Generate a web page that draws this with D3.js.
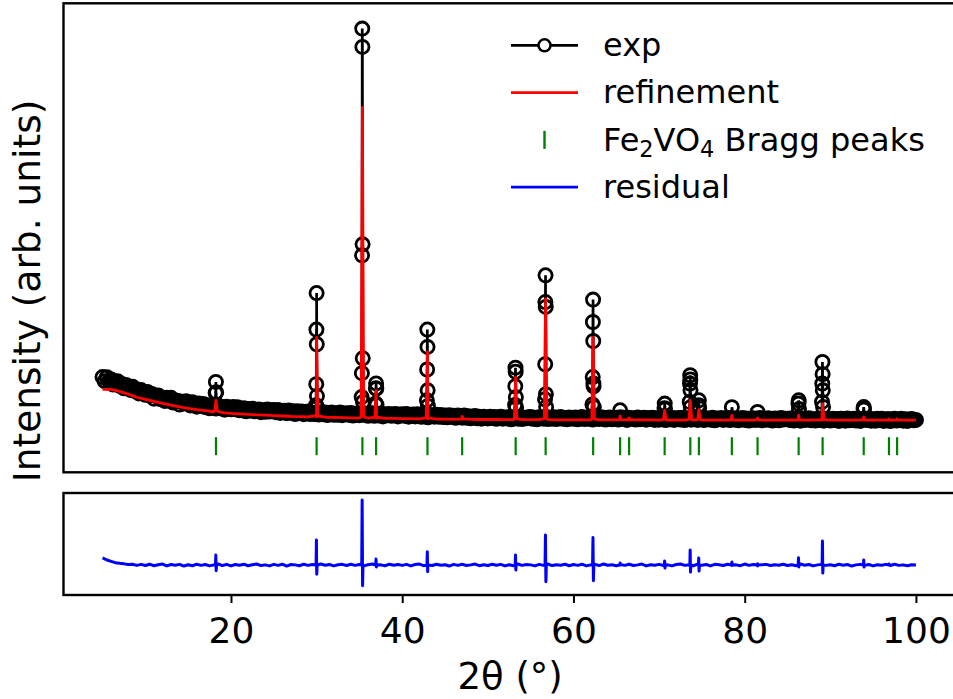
<!DOCTYPE html>
<html>
<head>
<meta charset="utf-8">
<script src="https://cdn.jsdelivr.net/npm/d3@7"></script>
<style>
  body { margin: 0; background: #fff; }
  svg { display: block; }
  text { font-family: "DejaVu Sans", sans-serif; fill: #000; }
</style>
</head>
<body>
<svg id="chart" width="953" height="699"></svg>
<script>
// ---------- measured pattern (step scan, 2θ in degrees) ----------
const scanStart = 5, scanStep = 0.25;
const expBackground = [
  297,277,296,276,285,260,272,277,254,263,242,258,249,234,250,230,236,217,233,218,
  210,224,208,214,191,205,207,189,196,180,195,181,195,172,179,181,162,176,168,178,
  173,158,174,160,152,167,157,165,150,159,144,158,153,143,158,144,150,137,152,144,
  139,150,139,149,134,141,144,129,140,133,142,129,134,138,125,134,127,138,128,134,
  135,125,136,121,129,132,120,133,122,129,116,130,122,128,115,125,128,116,122,116,
  123,113,125,115,123,111,119,123,112,120,112,123,110,117,120,112,121,108,117,112,
  110,120,112,118,107,116,120,107,114,109,118,104,115,110,116,107,113,116,104,112,
  115,107,116,103,111,113,104,115,106,102,113,110,100,111,108,103,112,103,111,101,
  109,100,110,102,107,97,108,103,98,108,98,105,95,102,106,95,102,93,103,96,
  94,102,96,101,92,99,103,93,99,94,101,90,97,100,93,102,91,98,95,100,
  101,92,98,90,100,97,93,102,91,98,93,100,91,97,101,92,96,90,99,94,
  93,99,90,98,101,91,96,92,100,89,96,98,91,100,93,89,97,99,90,96,
  97,89,100,92,98,87,98,92,95,89,99,90,94,98,88,96,91,97,87,95,
  88,95,97,86,94,90,98,87,93,96,89,97,86,94,95,88,98,91,87,96,
  93,86,95,92,88,97,85,94,90,96,87,93,97,86,94,89,95,85,92,96,
  87,94,84,92,95,86,91,96,85,93,88,95,87,84,94,92,85,96,89,93,
  93,87,95,84,90,92,83,94,86,91,95,85,90,84,93,87,94,83,92,88,
  84,93,87,91,82,92,90,83,94,85,89,93,84,91,82,90,92,86,94,83,
  90,83,92,85,93,82,88,91,81,89,92,84,86,93,83,90,82,89,91,85,
  87
];
// points recorded across the reflections [2θ, intensity]
const expPeaks = [
  [18.17,162],[18.21,219],[18.24,273],[18.27,222],[18.31,158],
  [29.93,159],[29.96,262],[29.98,530],[30.00,709],[30.02,458],[30.04,204],[30.07,148],
  [35.26,199],[35.29,316],[35.31,894],[35.33,2006],[35.35,1916],[35.37,948],[35.39,389],[35.42,175],
  [36.90,168],[36.93,242],[36.95,266],[36.97,240],[37.00,160],
  [42.88,183],[42.91,334],[42.93,530],[42.95,445],[42.97,232],[43.00,155],
  [53.18,160],[53.21,252],[53.23,343],[53.25,323],[53.27,198],[53.30,148],
  [56.68,188],[56.70,360],[56.72,665],[56.74,796],[56.76,641],[56.78,213],[56.81,150],
  [62.22,163],[62.25,297],[62.27,567],[62.29,677],[62.31,474],[62.33,265],[62.35,252],[62.38,150],
  [65.45,134],
  [70.63,144],[70.66,167],[70.69,140],
  [73.58,175],[73.61,265],[73.63,306],[73.65,285],[73.67,232],[73.70,150],
  [74.62,159],[74.65,183],[74.68,145],
  [78.50,149],
  [81.50,126],
  [86.28,167],[86.31,183],[86.34,140],
  [89.03,175],[89.06,265],[89.08,371],[89.10,311],[89.12,232],[89.15,150],
  [93.88,140],[93.90,150],[93.93,138]
];

// ---------- refinement (calculated profile) ----------
const calcStart = 5, calcStep = 1;
const calcBackground = [
  237,237,227,213,198,188,178,168,159,151,
  144,137,132,127,123,119,117,114,112,110,
  108,106,104,103,102,101,100,99,98,97,
  96,96,95,94,94,93,93,92,92,91,
  91,90,90,90,89,89,89,88,88,88,
  88,88,88,87,87,87,87,87,87,87,
  87,87,87,87,87,
  86,86,86,86,86,86,86,86,86,86,86,86,86,86,86,86,
  86,86,86,86,86,86,86,86,86,86,86,86,86,86,86
];
const calcPeaks = [
  [18.10,131],[18.25,183],[18.40,130],
  [29.85,108],[30.00,492],[30.15,107],
  [35.20,103],[35.35,1620],[35.50,102],
  [36.80,100],[36.95,232],[37.10,100],
  [42.80,97],[42.95,420],[43.10,97],
  [46.85,92],[47.00,104],[47.15,92],
  [53.10,92],[53.25,296],[53.40,92],
  [56.60,93],[56.75,680],[56.90,93],
  [62.15,91],[62.30,491],[62.45,91],
  [65.35,88],[65.45,106],[65.55,88],
  [66.40,87],[66.50,97],[66.60,87],
  [70.50,88],[70.65,134],[70.80,88],
  [73.50,89],[73.65,183],[73.80,89],
  [74.50,88],[74.65,137],[74.80,88],
  [78.40,87],[78.50,109],[78.60,87],
  [81.40,87],[81.50,96],[81.60,87],
  [86.20,87],[86.30,109],[86.40,87],
  [88.95,88],[89.10,167],[89.25,88],
  [93.80,87],[93.90,101],[94.00,87],
  [96.75,86],[96.85,92],[96.95,86],
  [97.70,86],[97.80,92],[97.90,86]
];

// ---------- Fe2VO4 reflection positions ----------
const braggPositions = [18.25, 30.0, 35.35, 36.95, 42.95, 47.0, 53.25, 56.75, 62.3,
  65.45, 66.5, 70.65, 73.65, 74.65, 78.5, 81.5, 86.3, 89.1, 93.9, 96.85, 97.8];
const braggLevel = -42;

// ---------- difference curve ----------
const residStart = 5, residStep = 0.5;
const residBackground = [
  42,30,22,14,10,7,3,5,-2,4,
  -3,5,-4,2,6,-5,3,-1,4,-6,
  2,-4,5,-2,3,-5,1,6,-3,4,
  -5,3,-1,5,-4,2,6,-3,1,-5,
  4,-2,5,-6,3,1,-4,5,-2,3,
  -4,6,-1,3,-5,2,4,-3,5,-2,
  3,-5,2,6,-3,1,-4,5,-1,3,
  -2,4,-5,3,6,-4,1,-3,5,-1,
  2,-6,4,-2,5,-3,1,6,-4,2,
  -3,5,-1,4,-5,2,-4,6,-2,3,
  1,-5,4,-2,6,-3,2,-1,5,-4,
  3,-2,5,-5,1,4,-3,6,-1,2,
  -4,3,-2,5,-3,1,6,-5,2,-1,
  4,-3,1,-5,3,6,-2,2,-4,5,
  -1,3,-5,4,2,-3,5,-2,1,-4,
  6,-2,3,-5,1,4,-3,2,-1,5,
  -3,2,-4,6,-1,3,-5,1,4,-2,
  2,-4,5,-1,3,-6,1,4,-2,3,
  -5,2,-1,4,-3,5,-2,1,-4,2,
  0
];
const residPeaks = [
  [18.19,0],[18.23,60],[18.27,-34],[18.31,0],
  [29.94,0],[29.98,149],[30.02,-54],[30.06,0],
  [35.27,0],[35.32,387],[35.37,-123],[35.42,0],
  [36.90,0],[36.94,36],[36.98,-12],[37.02,0],
  [42.89,0],[42.93,79],[42.97,-40],[43.01,0],
  [53.19,0],[53.23,60],[53.27,-30],[53.31,0],
  [56.68,0],[56.73,179],[56.78,-99],[56.83,0],
  [62.23,0],[62.28,163],[62.33,-93],[62.38,0],
  [65.41,0],[65.45,12],[65.49,0],
  [70.61,0],[70.65,24],[70.69,-18],[70.73,0],
  [73.59,0],[73.63,89],[73.67,-42],[73.71,0],
  [74.59,0],[74.63,42],[74.67,-36],[74.71,0],
  [78.46,0],[78.50,18],[78.54,0],
  [81.46,0],[81.50,8],[81.54,0],
  [86.24,0],[86.28,43],[86.32,-12],[86.36,0],
  [89.04,0],[89.08,143],[89.12,-48],[89.16,0],
  [93.86,0],[93.90,30],[93.94,-12],[93.98,0],
  [96.81,0],[96.85,6],[96.89,0]
];

const xTicks = [20, 40, 60, 80, 100];

// ---------- assemble series ----------
const onGrid = (vals, start, step) => vals.map((v, i) => [start + i * step, v]);
const byAngle = (a, b) => a[0] - b[0];
const expData = onGrid(expBackground, scanStart, scanStep).concat(expPeaks).sort(byAngle);
const calcData = onGrid(calcBackground, calcStart, calcStep).concat(calcPeaks).sort(byAngle);
const residData = onGrid(residBackground, residStart, residStep).concat(residPeaks).sort(byAngle);

// ---------- layout ----------
const svg = d3.select("#chart");
const plotLeft = 63.5, plotRight = 956.7;
const top1 = 3.3, bottom1 = 472.3, top2 = 493, bottom2 = 595;

const x = d3.scaleLinear().domain([0.44, 104.76]).range([plotLeft, plotRight]);
const yMain = d3.scaleLinear().domain([-170, 2130]).range([bottom1, top1]);
const yRes = d3.scaleLinear().domain([-178, 428]).range([bottom2, top2]);

// ---------- upper panel ----------
const gMain = svg.append("g");

gMain.append("path")
  .datum(expData)
  .attr("fill", "none")
  .attr("stroke", "#000")
  .attr("stroke-width", 2.7)
  .attr("d", d3.line().x(d => x(d[0])).y(d => yMain(d[1])));

gMain.append("g")
  .selectAll("circle")
  .data(expData)
  .join("circle")
  .attr("cx", d => x(d[0]))
  .attr("cy", d => yMain(d[1]))
  .attr("r", 6.6)
  .attr("fill", "none")
  .attr("stroke", "#000")
  .attr("stroke-width", 2.8);

gMain.append("path")
  .datum(calcData)
  .attr("fill", "none")
  .attr("stroke", "#ff0000")
  .attr("stroke-width", 2.8)
  .attr("stroke-linejoin", "round")
  .attr("d", d3.line().x(d => x(d[0])).y(d => yMain(d[1])));

const tickHalf = 9;
gMain.append("g")
  .selectAll("line")
  .data(braggPositions)
  .join("line")
  .attr("x1", d => x(d)).attr("x2", d => x(d))
  .attr("y1", yMain(braggLevel) - tickHalf)
  .attr("y2", yMain(braggLevel) + tickHalf)
  .attr("stroke", "#008000")
  .attr("stroke-width", 2.2);

gMain.append("rect")
  .attr("x", plotLeft).attr("y", top1)
  .attr("width", plotRight - plotLeft).attr("height", bottom1 - top1)
  .attr("fill", "none").attr("stroke", "#000").attr("stroke-width", 2.4);

// ---------- lower panel ----------
const gRes = svg.append("g");
gRes.append("path")
  .datum(residData)
  .attr("fill", "none")
  .attr("stroke", "#0000ff")
  .attr("stroke-width", 3)
  .attr("stroke-linejoin", "round")
  .attr("d", d3.line().x(d => x(d[0])).y(d => yRes(d[1])));

gRes.append("rect")
  .attr("x", plotLeft).attr("y", top2)
  .attr("width", plotRight - plotLeft).attr("height", bottom2 - top2)
  .attr("fill", "none").attr("stroke", "#000").attr("stroke-width", 2.4);

const xAxis = d3.axisBottom(x)
  .tickValues(xTicks)
  .tickFormat(d3.format("d"))
  .tickSize(8)
  .tickPadding(14.4);

const gx = svg.append("g")
  .attr("transform", `translate(0,${bottom2})`)
  .call(xAxis);
gx.select(".domain").remove();
gx.selectAll(".tick line").attr("stroke", "#000").attr("stroke-width", 2);
gx.selectAll(".tick text")
  .attr("font-family", "DejaVu Sans, sans-serif")
  .attr("font-size", 36)
  .attr("fill", "#000");

// ---------- axis titles ----------
svg.append("text")
  .attr("x", (plotLeft + plotRight) / 2)
  .attr("y", 689)
  .attr("text-anchor", "middle")
  .attr("font-size", 37)
  .text("2θ (°)");

svg.append("text")
  .attr("transform", "translate(39.5,291) rotate(-90)")
  .attr("text-anchor", "middle")
  .attr("font-size", 37.5)
  .text("Intensity (arb. units)");

// ---------- legend ----------
const legend = svg.append("g");
const legX0 = 511, legX1 = 578, legMid = 544.5, legText = 603;
const legRowY = [45.3, 92.6, 139.9, 187.2];
const legFont = 32;

legend.append("line")
  .attr("x1", legX0).attr("x2", legX1).attr("y1", legRowY[0]).attr("y2", legRowY[0])
  .attr("stroke", "#000").attr("stroke-width", 2.7);
legend.append("circle")
  .attr("cx", legMid).attr("cy", legRowY[0]).attr("r", 6)
  .attr("fill", "#fff").attr("stroke", "#000").attr("stroke-width", 2.5);

legend.append("line")
  .attr("x1", legX0).attr("x2", legX1).attr("y1", legRowY[1]).attr("y2", legRowY[1])
  .attr("stroke", "#ff0000").attr("stroke-width", 2.8);

legend.append("line")
  .attr("x1", legMid).attr("x2", legMid)
  .attr("y1", legRowY[2] - tickHalf).attr("y2", legRowY[2] + tickHalf)
  .attr("stroke", "#008000").attr("stroke-width", 2.4);

legend.append("line")
  .attr("x1", legX0).attr("x2", legX1).attr("y1", legRowY[3]).attr("y2", legRowY[3])
  .attr("stroke", "#0000ff").attr("stroke-width", 2.8);

const baseOff = 10.7;
legend.append("text").attr("x", legText).attr("y", legRowY[0] + baseOff)
  .attr("font-size", legFont).text("exp");
legend.append("text").attr("x", legText).attr("y", legRowY[1] + baseOff)
  .attr("font-size", legFont).text("refinement");
const braggLabel = legend.append("text").attr("x", legText).attr("y", legRowY[2] + baseOff)
  .attr("font-size", legFont);
braggLabel.append("tspan").text("Fe");
braggLabel.append("tspan").attr("font-size", legFont * 0.7).attr("dy", 6.5).text("2");
braggLabel.append("tspan").attr("dy", -6.5).text("VO");
braggLabel.append("tspan").attr("font-size", legFont * 0.7).attr("dy", 6.5).text("4");
braggLabel.append("tspan").attr("dy", -6.5).text(" Bragg peaks");
legend.append("text").attr("x", legText).attr("y", legRowY[3] + baseOff)
  .attr("font-size", legFont).text("residual");
</script>
</body>
</html>
